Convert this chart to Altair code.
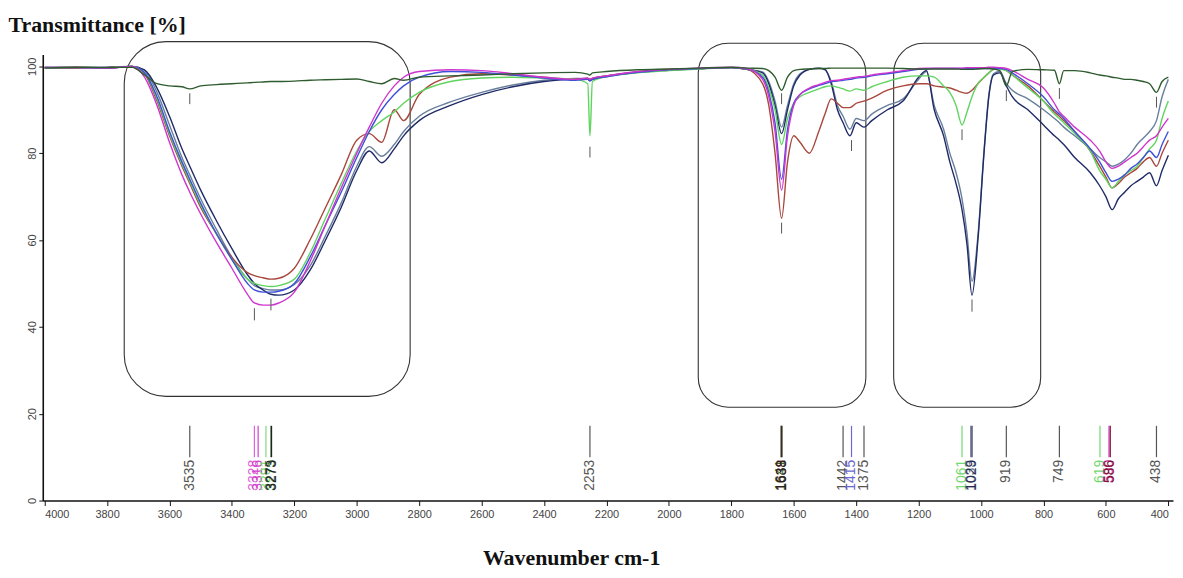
import altair as alt
import pandas as pd

# ---------------- data ----------------
WAVENUMBER = (
    [4000, 3900, 3800]
    + [3720, 3680, 3640, 3600, 3560, 3535, 3500, 3450, 3400, 3350, 3328, 3300,
       3275, 3250, 3200, 3150, 3100, 3050, 3000, 2960, 2920, 2880, 2850, 2800]
    + [2700, 2600, 2500, 2400, 2300, 2260, 2253, 2245, 2200, 2100, 2000, 1900, 1800, 1750]
    + [1700, 1680, 1660, 1639, 1620, 1600, 1580, 1550, 1520, 1500, 1480, 1460,
       1442, 1420, 1400, 1375, 1350, 1300, 1250, 1200]
    + [1175, 1150, 1120, 1100, 1080, 1061, 1045, 1029, 1010, 990, 975, 960, 940, 919, 900]
    + [850, 800, 765, 749, 735, 700, 650, 620, 600, 580, 560, 540, 520, 500, 480, 460, 438, 420, 400]
)

T_FLAT = (
    [99.6, 99.8, 99.7]
    + [99.8, 98, 96, 95.5, 95.3, 94.8, 95.5, 95.8, 96, 96.2, 96.3, 96.4,
       96.5, 96.5, 96.6, 96.8, 96.9, 97, 97.1, 96.5, 96, 97.2, 96.8, 97.5]
    + [97.8, 98, 98.3, 98.5, 98.6, 98.2, 98, 98.5, 98.8, 99.2, 99.4, 99.6, 99.8, 99.6]
    + [99.5, 99, 97.5, 94.5, 97.5, 99, 99.3, 99.4, 99.5, 99.5, 99.6, 99.6,
       99.6, 99.6, 99.6, 99.6, 99.6, 99.6, 99.5, 99.4]
    + [99.4, 99.4, 99.4, 99.4, 99.4, 99.3, 99.3, 99.3, 99.4, 99.5, 99.5, 99.4, 99, 95.5, 98.8]
    + [99.3, 99.2, 99.1, 96, 99, 99, 98.5, 98, 97.8, 97.5, 97.3, 97, 97, 96.8, 96.5, 96, 94, 96.5, 97.5]
)

T_MAGENTA = (
    [99.7, 99.8, 99.6]
    + [100, 97.5, 91, 82.5, 75, 71, 66, 59.5, 53.5, 47.5, 45.5, 45,
       45, 45.5, 48, 55, 63.5, 72, 80, 86, 91.5, 95.5, 97.5, 98.8]
    + [99.2, 99, 98.3, 97.5, 97, 97.3, 97, 97.3, 97.8, 98.8, 99.3, 99.6, 99.8, 99.5]
    + [97, 93, 85, 71.5, 84, 91, 93.5, 95, 95.8, 96.3, 96.7, 96.8,
       97, 97.3, 97.5, 97.7, 98, 98.5, 99, 99.5]
    + [99.6, 99.6, 99.6, 99.6, 99.6, 99.6, 99.7, 99.7, 99.7, 99.7, 99.8, 99.8, 99.7, 99.5, 99]
    + [97, 95, 91.5, 89.5, 88.5, 86, 83, 80.5, 78, 76.5, 77, 78, 79, 80, 81.5, 83, 84, 86, 88]
)

T_BLUE = (
    [99.7, 99.7, 99.6]
    + [100, 98.5, 93, 85, 78, 74, 68.5, 61.5, 55.5, 50, 48.5, 48,
       48, 48.2, 50, 56, 63.5, 71, 79, 85, 90, 93.5, 95.5, 97.5]
    + [98.8, 98.6, 98, 97.3, 96.8, 97, 96.6, 97, 97.6, 98.6, 99.2, 99.5, 99.7, 99.4]
    + [97.5, 94, 87, 74, 85.5, 91.5, 93.5, 94.8, 95.6, 96, 96.5, 96.6,
       96.8, 97, 97.3, 97.5, 97.8, 98.3, 98.8, 99.3]
    + [99.4, 99.5, 99.5, 99.5, 99.5, 99.5, 99.5, 99.5, 99.5, 99.5, 99.5, 99.5, 99.5, 99.3, 98.5]
    + [96, 93, 90, 89, 88, 85, 81, 78, 75.5, 73.5, 74, 75, 76.5, 77.5, 79, 80.5, 79, 82, 85]
)

T_GREEN = (
    [99.6, 99.8, 99.7]
    + [100, 98.5, 92.5, 84.5, 77.5, 73.5, 68, 61.5, 55.5, 51, 50, 49.5,
       49.3, 49.5, 51, 57, 65, 73, 80.5, 85, 87.5, 89.5, 91.5, 94]
    + [96.5, 97.3, 97.5, 97.3, 97, 96, 84, 96.5, 97.6, 98.5, 99, 99.4, 99.7, 99.4]
    + [98, 95, 90, 82, 88, 91.5, 93, 94, 94.8, 95.3, 95.5, 95.2,
       94.8, 94.3, 94.8, 94.5, 95.3, 96.5, 97.5, 97.8]
    + [97.8, 97.5, 95.5, 94, 91, 86.5, 89.5, 93, 96, 97.5, 98.5, 99.3, 99.4, 99, 98]
    + [95, 92, 89, 88, 87, 84.5, 80.5, 76, 74, 72, 73.5, 75, 76, 77, 79, 81, 83, 88, 92]
)

T_BROWN = (
    [99.7, 99.6, 99.7]
    + [100, 98.3, 92, 84, 77, 73, 67.5, 61.5, 56, 52.5, 51.8, 51.3,
       51, 51.2, 53.5, 60, 67.5, 75, 83, 84.5, 82.5, 90, 87.5, 93.5]
    + [97.5, 98.3, 98, 97.5, 97, 97.2, 97, 97.2, 97.8, 98.7, 99.2, 99.5, 99.7, 99.3]
    + [96, 91, 80, 65, 78, 84, 82.5, 80, 85, 89, 92.5, 91.5,
       90.5, 90.5, 91.5, 92, 92.7, 94.5, 95.5, 96]
    + [96, 95.5, 95.2, 95, 94.5, 94, 93.8, 94.5, 96, 97.5, 98.5, 99.3, 99.5, 99, 98]
    + [95.5, 92, 89.5, 88.5, 87.5, 85, 80.5, 77, 74.5, 72, 73, 74.5, 75.5, 76.5, 78, 79, 77, 80, 83]
)

T_NAVY = (
    [99.8, 99.7, 99.8]
    + [100, 99.2, 95, 88.5, 81, 77, 71.5, 64.5, 58, 52, 50, 48.5,
       47.5, 47.3, 48.5, 53, 60, 67.5, 76, 80.5, 77.8, 81, 84, 87.5]
    + [91, 93.5, 95.3, 96.5, 97, 97, 96.8, 97, 97.7, 98.6, 99.1, 99.5, 99.7, 99.3]
    + [98.5, 96, 91, 84.5, 90, 95.5, 98, 99.3, 99.6, 99.3, 96, 90,
       87, 84, 87, 86, 87.5, 90, 92, 97.5]
    + [99, 90, 84, 78, 73, 67, 59, 47.3, 60, 80.5, 93, 98, 98.5, 95.5, 93]
    + [90, 86.5, 84, 83, 82, 79, 75.5, 72.5, 70, 67, 69.5, 71, 72.5, 73.5, 74.5, 75.5, 72.5, 76, 79.5]
)

T_STEEL = (
    [99.7, 99.8, 99.7]
    + [100, 99, 94, 86.5, 79, 75, 69.5, 62.5, 56, 51, 49.5, 48.8,
       48.5, 48.5, 49.8, 54, 61, 68.5, 77, 81.5, 79.3, 82, 85, 88.5]
    + [91.8, 94, 95.7, 96.8, 97.2, 97.2, 97, 97.2, 97.8, 98.7, 99.2, 99.5, 99.7, 99.3]
    + [98.7, 96.5, 92, 86, 91, 96, 98.3, 99.3, 99.5, 99.2, 96.5, 91,
       88.5, 85.5, 88, 87.5, 89, 91, 92.5, 97]
    + [98.8, 91, 85.5, 80, 75.5, 69.5, 61.5, 50.5, 61, 81, 93.5, 98.3, 98.8, 96, 94.5]
    + [92.5, 90, 88, 87, 86, 84, 81, 79, 78, 77, 77.5, 78.5, 80, 82, 83.5, 85, 87.5, 93, 97]
)

SERIES = {
    "steel": T_STEEL,
    "navy": T_NAVY,
    "brown": T_BROWN,
    "green": T_GREEN,
    "blue": T_BLUE,
    "magenta": T_MAGENTA,
    "flat": T_FLAT,
}
SERIES_COLORS = ["#687f9c", "#1f2a66", "#a8473c", "#5fd45f", "#3e50d6", "#cf35cf", "#2f5c2f"]

# peak labels along the bottom
PEAK_W = [3535, 3328, 3316, 3291, 3275, 3273, 2253, 1641, 1639, 1638, 1442, 1415, 1375,
          1061, 1033, 1029, 919, 749, 619, 590, 586, 438]
PEAK_COLOR = ["#555555", "#e060d8", "#d040d0", "#80d880", "#3a6a3a", "#222222", "#555555",
              "#2f6a2f", "#a03030", "#222222", "#555555", "#6a6ad0", "#555555",
              "#70d870", "#6a7a90", "#2a2a55", "#555555", "#555555", "#70d870", "#d030c0",
              "#80102a", "#555555"]

# small peak markers under the curves
MARK_W = [3535, 3328, 3275, 2253, 1639, 1639, 1415, 1061, 1029, 919, 749, 438]
MARK_T1 = [93.8, 44.3, 46.5, 81.5, 64, 93.8, 83, 85.5, 46.3, 94.5, 95, 93]
MARK_T2 = [91.3, 41.5, 43.8, 79, 61.5, 91.3, 80.5, 83, 43.5, 92, 92.5, 90.5]

# rounded highlight boxes
BOX_W1 = [3745, 1906, 1280]
BOX_W2 = [2829, 1369, 809]
BOX_T_TOP = [105.7, 105.3, 105.3]
BOX_T_BOT = [24.0, 21.5, 21.5]

X_TICKS = [4000, 3800, 3600, 3400, 3200, 3000, 2800, 2600, 2400, 2200, 2000,
           1800, 1600, 1400, 1200, 1000, 800, 600, 400]
Y_TICKS = [0, 20, 40, 60, 80, 100]

# ---------------- tables ----------------
rows = []
for name, vals in SERIES.items():
    assert len(vals) == len(WAVENUMBER), (name, len(vals), len(WAVENUMBER))
    for w, t in zip(WAVENUMBER, vals):
        rows.append({"w": w, "T": t, "series": name})
spec_df = pd.DataFrame(rows)

peaks_df = pd.DataFrame({
    "w": PEAK_W,
    "color": PEAK_COLOR,
    "label": [str(p) for p in PEAK_W],
    "t1": [17.2] * len(PEAK_W),
    "t2": [10.0] * len(PEAK_W),
    "tt": [9.4] * len(PEAK_W),
})
marks_df = pd.DataFrame({"w": MARK_W, "t1": MARK_T1, "t2": MARK_T2})
box_df = pd.DataFrame({"w1": BOX_W1, "w2": BOX_W2, "t1": BOX_T_TOP, "t2": BOX_T_BOT,
                       "id": [1, 2, 3]})

x_scale = alt.Scale(domain=[385, 4006], reverse=True, nice=False, zero=False)
y_scale = alt.Scale(domain=[0, 102.7], nice=False, zero=True)

x_axis = alt.Axis(
    values=X_TICKS, format="d", grid=False, labelOverlap=False, labelFlush=False,
    labelAlign={"expr": "datum.value == 400 ? 'right' : (datum.value == 4000 ? 'left' : 'center')"},
    labelFont="Liberation Sans Narrow, Liberation Sans, Arial", labelFontSize=11,
    labelColor="#444444", labelPadding=3, tickSize=5, tickColor="#111111",
    domainColor="#111111", domainWidth=1.6, tickWidth=1,
    title="Wavenumber cm-1", titleFont="Liberation Serif", titleFontSize=22,
    titleFontWeight="bold", titleColor="#111111", titleX=532, titleY=64,
    titleAlign="center", titleBaseline="alphabetic",
)
y_axis = alt.Axis(
    values=Y_TICKS, grid=False, labelAngle=270, labelAlign="center",
    labelBaseline="bottom", labelPadding=1,
    labelFont="Liberation Sans Narrow, Liberation Sans, Arial", labelFontSize=11,
    labelColor="#444444", tickSize=4, tickColor="#111111",
    domainColor="#111111", domainWidth=1.6,
    title="Transmittance [%]", titleFont="Liberation Serif", titleFontSize=22,
    titleFontWeight="bold", titleColor="#111111", titleAngle=0, titleX=-35,
    titleY=-23, titleAlign="left", titleBaseline="alphabetic",
)

base_x = alt.X("w:Q", scale=x_scale, axis=x_axis)
base_y = alt.Y("T:Q", scale=y_scale, axis=y_axis)

lines = alt.Chart(spec_df).mark_line(strokeWidth=1.4, interpolate="monotone").encode(
    x=base_x,
    y=base_y,
    color=alt.Color("series:N", scale=alt.Scale(domain=list(SERIES.keys()), range=SERIES_COLORS),
                    legend=None),
    detail="series:N",
)

box_big = alt.Chart(box_df).transform_filter("datum.id == 1").mark_rect(
    fillOpacity=0, stroke="#333333", strokeWidth=1.1, cornerRadius=42
).encode(
    x=alt.X("w1:Q", scale=x_scale), x2="w2:Q",
    y=alt.Y("t1:Q", scale=y_scale), y2="t2:Q",
)
box_small = alt.Chart(box_df).transform_filter("datum.id > 1").mark_rect(
    fillOpacity=0, stroke="#333333", strokeWidth=1.1, cornerRadius=30
).encode(
    x=alt.X("w1:Q", scale=x_scale), x2="w2:Q",
    y=alt.Y("t1:Q", scale=y_scale), y2="t2:Q",
)

markers = alt.Chart(marks_df).mark_rule(color="#555555", strokeWidth=1).encode(
    x=alt.X("w:Q", scale=x_scale),
    y=alt.Y("t1:Q", scale=y_scale), y2="t2:Q",
)

peak_lines = alt.Chart(peaks_df).mark_rule(strokeWidth=1.2).encode(
    x=alt.X("w:Q", scale=x_scale),
    y=alt.Y("t1:Q", scale=y_scale), y2="t2:Q",
    color=alt.Color("color:N", scale=None),
)
peak_text = alt.Chart(peaks_df).mark_text(
    angle=270, align="right", baseline="middle", fontSize=14,
    font="Liberation Sans Narrow, Liberation Sans, Arial",
).encode(
    x=alt.X("w:Q", scale=x_scale),
    y=alt.Y("tt:Q", scale=y_scale),
    text="label:N",
    color=alt.Color("color:N", scale=None),
)

chart = alt.layer(
    box_big, box_small, lines, markers, peak_lines, peak_text
).resolve_scale(color="independent").properties(
    width=1138, height=449,
    autosize=alt.AutoSizeParams(type="none"),
    padding={"left": 35, "top": 45, "right": 2, "bottom": 70},
    background="white",
).configure_view(stroke=None)

chart.save("out.html", embed_options={"renderer": "svg", "actions": False})
